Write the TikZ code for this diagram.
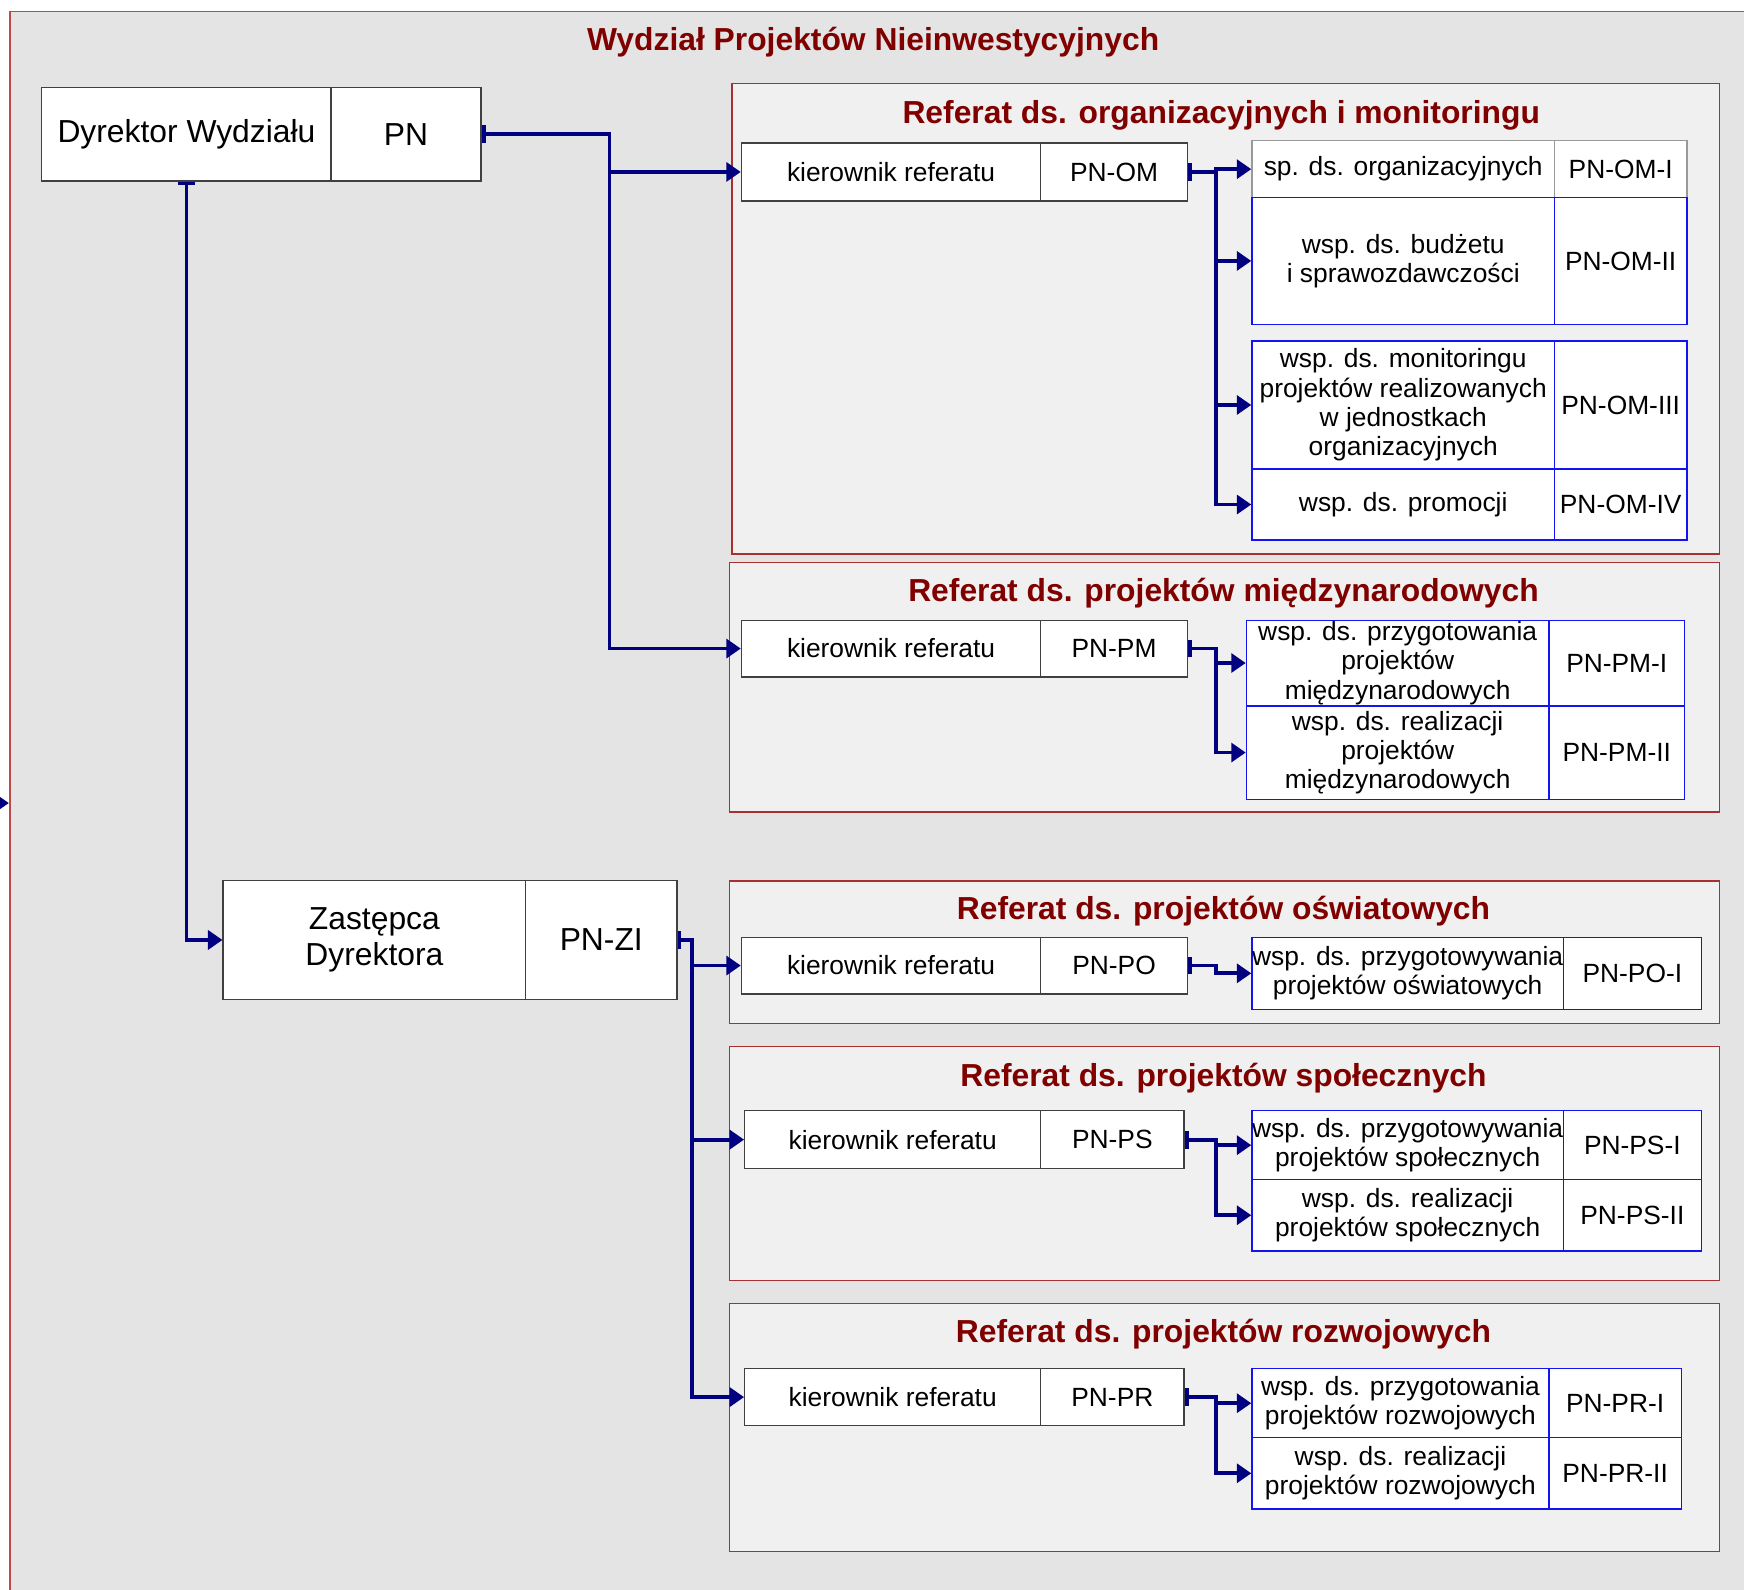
\documentclass[tikz,border=0pt]{standalone}
\usepackage{fontspec}
\setmainfont{Liberation Sans}
\usetikzlibrary{arrows.meta,calc}
\definecolor{framered}{HTML}{C04848}
\definecolor{refred}{HTML}{A83030}
\definecolor{titlered}{HTML}{800000}
\definecolor{bggray}{HTML}{E4E4E4}
\definecolor{refgray}{HTML}{F0F0F0}
\definecolor{connblue}{HTML}{000080}
\definecolor{subblue}{HTML}{1414F0}
\newcommand{\myfsmall}{\fontsize{23.7}{26.3}\selectfont}
\newcommand{\myfbig}{\fontsize{28.6}{32}\selectfont}
\newcommand{\myftitle}{\bfseries\fontsize{28.6}{32}\selectfont}
% #1 name prefix, #2 style, #3 x1, #4 xdiv, #5 x2, #6 y1, #7 y2, #8 left, #9 right
\newcommand{\mypair}[9]{%
  \node[#2, minimum width={#4-#3}, minimum height={#7-#6}] (#1l) at (#3,#6) {#8};
  \node[#2, minimum width={#5-#4}, minimum height={#7-#6}] (#1r) at (#4,#6) {#9};}
\tikzset{
  cellbase/.style={fill=white, line width=1.2pt, inner sep=0pt, anchor=north west, align=center},
  bigcell/.style={cellbase, draw=black!75, font=\myfbig},
  kcell/.style={cellbase, draw=black!75, font=\myfsmall},
  subcell/.style={cellbase, draw=subblue, font=\myfsmall},
  graycell/.style={cellbase, draw=black!40, font=\myfsmall},
  referat/.style={draw=refred, fill=refgray, line width=1.2pt},
  reftitle/.style={text=titlered, font=\myftitle, anchor=base},
  conn/.style={draw=connblue, line width=3.4pt, -{Triangle[length=13pt,width=17pt]}},
  startbar/.style={{Bar[width=16pt]}-{Triangle[length=13pt,width=17pt]}},
}
\begin{document}
\begin{tikzpicture}[x=1pt,y=-1pt]
\useasboundingbox (0,0) rectangle (1568,1429);
\fill[white] (0,0) rectangle (1568,1429);
\draw[framered, fill=bggray, line width=1pt] (9,10) rectangle (1600,1460);
\node[reftitle] (maintitle) at (785,45) {Wydział Projektów Nieinwestycyjnych};

% referat frames
\draw[referat] (658,75) rectangle (1546,498);
\node[reftitle] (tOM) at (1098,111) {Referat ds. organizacyjnych i monitoringu};
\draw[referat] (656,506) rectangle (1546,730);
\node[reftitle] (tPM) at (1100,541) {Referat ds. projektów międzynarodowych};
\draw[referat] (656,792) rectangle (1546,920);
\node[reftitle] (tPO) at (1100,827) {Referat ds. projektów oświatowych};
\draw[referat] (656,941) rectangle (1546,1151);
\node[reftitle] (tPS) at (1100,977) {Referat ds. projektów społecznych};
\draw[referat] (656,1172) rectangle (1546,1395);
\node[reftitle] (tPR) at (1100,1207) {Referat ds. projektów rozwojowych};

% directors
\mypair{dir}{bigcell}{37}{297}{432}{78}{162}{Dyrektor Wydziału}{PN}
\mypair{zas}{bigcell}{200}{472}{608}{791}{898}{Zastępca\\Dyrektora}{PN-ZI}

% heads
\mypair{omk}{kcell}{666}{935}{1067}{128}{180}{kierownik referatu}{PN-OM}
\mypair{pmk}{kcell}{666}{935}{1067}{557}{608}{kierownik referatu}{PN-PM}
\mypair{pok}{kcell}{666}{935}{1067}{842}{893}{kierownik referatu}{PN-PO}
\mypair{psk}{kcell}{669}{935}{1064}{998}{1050}{kierownik referatu}{PN-PS}
\mypair{prk}{kcell}{669}{935}{1064}{1230}{1281}{kierownik referatu}{PN-PR}

% posts
\mypair{om1}{graycell}{1125}{1397}{1516}{126}{177}{sp. ds. organizacyjnych}{PN-OM-I}
\mypair{om2}{subcell}{1125}{1397}{1516}{177}{291}{wsp. ds. budżetu\\i sprawozdawczości}{PN-OM-II}
\mypair{om3}{subcell}{1125}{1397}{1516}{306}{421}{wsp. ds. monitoringu\\projektów realizowanych\\w jednostkach\\organizacyjnych}{PN-OM-III}
\mypair{om4}{subcell}{1125}{1397}{1516}{421}{485}{wsp. ds. promocji}{PN-OM-IV}

\mypair{pm1}{subcell}{1120}{1392}{1514}{557}{634}{wsp. ds. przygotowania\\projektów\\międzynarodowych}{PN-PM-I}
\mypair{pm2}{subcell}{1120}{1392}{1514}{634}{718}{wsp. ds. realizacji\\projektów\\międzynarodowych}{PN-PM-II}

\mypair{po1}{subcell}{1125}{1405}{1529}{842}{907}{wsp. ds. przygotowywania\\projektów oświatowych}{PN-PO-I}

\mypair{ps1}{subcell}{1125}{1405}{1529}{998}{1060}{wsp. ds. przygotowywania\\projektów społecznych}{PN-PS-I}
\mypair{ps2}{subcell}{1125}{1405}{1529}{1060}{1124}{wsp. ds. realizacji\\projektów społecznych}{PN-PS-II}

\mypair{pr1}{subcell}{1125}{1392}{1511}{1230}{1292}{wsp. ds. przygotowania\\projektów rozwojowych}{PN-PR-I}
\mypair{pr2}{subcell}{1125}{1392}{1511}{1292}{1356}{wsp. ds. realizacji\\projektów rozwojowych}{PN-PR-II}

% bus coordinates
\coordinate (busA) at (548,0);
\coordinate (busB) at (622,0);
\coordinate (busC) at (1093,0);
\coordinate (extA) at (-20,722);
\coordinate (extB) at (8,722);

% connectors
\draw[conn] (extA) -- (extB);
\draw[conn,startbar] (dirr.east) -- (busA |- dirr.east) |- (omkl.west);
\draw[conn] (busA |- omkl.west) |- (pmkl.west);
\draw[conn,startbar] (dirl.south) |- (zasl.west);
\draw[conn,startbar] (zasr.east) -- (busB |- zasr.east) |- (pokl.west);
\draw[conn] (busB |- pokl.west) |- (pskl.west);
\draw[conn] (busB |- pskl.west) |- (prkl.west);

\draw[conn,startbar] (omkr.east) -- (busC |- omkr.east) |- (om1l.west);
\draw[conn] (busC |- om1l.west) |- (om2l.west);
\draw[conn] (busC |- om2l.west) |- (om3l.west);
\draw[conn] (busC |- om3l.west) |- (om4l.west);

\draw[conn,startbar] (pmkr.east) -- (busC |- pmkr.east) |- (pm1l.west);
\draw[conn] (busC |- pm1l.west) |- (pm2l.west);

\draw[conn,startbar] (pokr.east) -- (busC |- pokr.east) |- (po1l.west);

\draw[conn,startbar] (pskr.east) -- (busC |- pskr.east) |- (ps1l.west);
\draw[conn] (busC |- ps1l.west) |- (ps2l.west);

\draw[conn,startbar] (prkr.east) -- (busC |- prkr.east) |- (pr1l.west);
\draw[conn] (busC |- pr1l.west) |- (pr2l.west);
\end{tikzpicture}
\end{document}
